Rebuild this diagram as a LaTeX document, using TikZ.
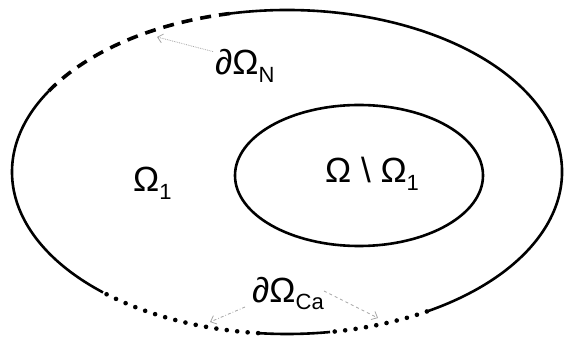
\documentclass[tikz,border=0pt]{standalone}
\usepackage{fontspec}
\setmainfont{Liberation Sans}
\usetikzlibrary{arrows.meta,calc}
\newcommand{\lowsub}[1]{\raisebox{-0.22em}{\fontsize{22}{24}\selectfont #1}}

\begin{document}
\begin{tikzpicture}[x=1pt, y=1pt,
    rim/.style={line width=2.6pt},
    rimdash/.style={line width=3.6pt, dash pattern=on 11pt off 8pt},
    rimdot/.style={line width=4.6pt, line cap=round, dash pattern=on 0pt off 10.5pt},
    pointer/.style={gray!70, line width=0.8pt, -{Straight Barb[length=5pt, width=9pt]}},
    lab/.style={inner sep=0pt, font=\fontsize{35}{40}\selectfont}]
  \useasboundingbox (0,0) rectangle (569,337);
  \coordinate (c) at (287,165);
  \coordinate (ci) at (359,161.5);

  \draw[rim] ($(c)+(150:275 and 162)$) arc[start angle=150, end angle=228, x radius=275, y radius=162];
  \draw[rimdot] ($(c)+(229:275 and 162)$) arc[start angle=229, end angle=264, x radius=275, y radius=162];
  \draw[rim] ($(c)+(264:275 and 162)$) arc[start angle=264, end angle=279, x radius=275, y radius=162];
  \draw[rimdot] ($(c)+(280:275 and 162)$) arc[start angle=280, end angle=301, x radius=275, y radius=162];
  \draw[rim] ($(c)+(301:275 and 162)$) arc[start angle=301, end angle=462, x radius=275, y radius=162];
  \draw[rimdash] ($(c)+(102:275 and 162)$) arc[start angle=102, end angle=150, x radius=275, y radius=162];

  \draw[rim] (ci) ellipse[x radius=124, y radius=70.5];

  \node[lab, anchor=base west] (om1) at (133,145) {Ω\lowsub{1}};
  \node[lab, anchor=base west] (omdiff) at (325,154) {Ω \textbackslash\ Ω\lowsub{1}};
  \node[lab, anchor=base west] (nlab) at (215,262) {∂Ω\lowsub{N}};
  \node[lab, anchor=base west] (calab) at (252,35) {∂Ω\lowsub{Ca}};

  \coordinate (ntip) at (157,300);
  \coordinate (caleft) at (210,15);
  \coordinate (caright) at (378,19);

  \draw[pointer, densely dotted] ([shift={(-2,-2)}]nlab.north west) -- (ntip);
  \draw[pointer, dash dot] ([shift={(-7,-5)}]calab.base west) -- (caleft);
  \draw[pointer, dashed] ([shift={(0,11)}]calab.base east) -- (caright);
\end{tikzpicture}
\end{document}
